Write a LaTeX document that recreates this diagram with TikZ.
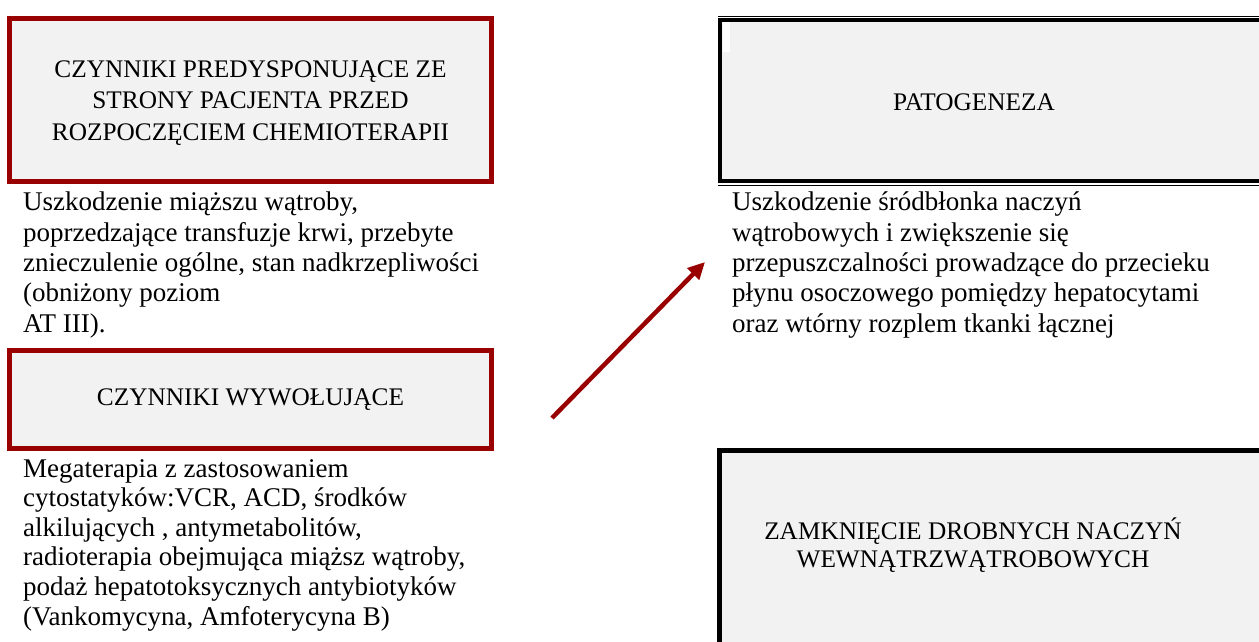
\documentclass[tikz,border=0pt]{standalone}
\usepackage{fontspec}
\setmainfont{Liberation Serif}
\usetikzlibrary{arrows.meta}
\definecolor{darkred}{RGB}{153,0,0}
\definecolor{boxgray}{RGB}{242,242,242}
\tikzset{
  redbox/.style={draw=darkred, line width=5pt, fill=boxgray, inner sep=0pt},
  blackbox/.style={draw=black, line width=4.5pt, fill=boxgray, inner sep=0pt},
  boxtext/.style={align=center, inner sep=0pt, font=\fontsize{25.3}{31.5}\selectfont},
  desc/.style={anchor=base west, align=left, inner sep=0pt, font=\fontsize{27}{30.3}\selectfont}
}
\begin{document}
\begin{tikzpicture}[x=1pt,y=-1pt]
      \useasboundingbox (0,0) rectangle (1259,642);
      \clip (0,0) rectangle (1259,642);
      % left column
      \node[redbox, minimum width=482pt, minimum height=163pt] (predysp) at (250.5,100) {};
      \node[boxtext] (predysptext) at (250.5,103) {CZYNNIKI PREDYSPONUJĄCE ZE\\STRONY PACJENTA PRZED\\ROZPOCZĘCIEM CHEMIOTERAPII};
      \node[desc] (predyspdesc) at (23,332) {Uszkodzenie miąższu wątroby,\\poprzedzające transfuzje krwi, przebyte\\znieczulenie ogólne, stan nadkrzepliwości\\(obniżony poziom\\AT III).};
      \node[redbox, minimum width=482pt, minimum height=98pt] (wywol) at (250.5,399) {};
      \node[boxtext] (wywoltext) at (250.5,400) {CZYNNIKI WYWOŁUJĄCE};
      \node[desc, font=\fontsize{27}{29.6}\selectfont] (wywoldesc) at (23,625) {Megaterapia z zastosowaniem\\cytostatyków:VCR, ACD, środków\\alkilujących , antymetabolitów,\\radioterapia obejmująca miąższ wątroby,\\podaż hepatotoksycznych antybiotyków\\(Vankomycyna, Amfoterycyna B)};
      % right column
      \node[blackbox, line width=4pt, minimum width=580pt, minimum height=161pt] (patog) at (1010,100.5) {};
      \draw[line width=1.2pt] (718,16.5) -- (1300,16.5) (718,185.5) -- (1300,185.5);
      \fill[white] (722.5,22) rectangle (730,52);
      \node[boxtext] (patogtext) at (974,102) {PATOGENEZA};
      \node[desc] (patogdesc) at (732,332) {Uszkodzenie śródbłonka naczyń\\wątrobowych i zwiększenie się\\przepuszczalności prowadzące do przecieku\\płynu osoczowego pomiędzy hepatocytami\\oraz wtórny rozplem tkanki łącznej};
      \node[blackbox, line width=5pt, minimum width=580pt, minimum height=250pt] (zamkn) at (1009,575.5) {};
      \node[boxtext, font=\fontsize{25.3}{28}\selectfont] (zamkntext) at (973,545) {ZAMKNIĘCIE DROBNYCH NACZYŃ\\WEWNĄTRZWĄTROBOWYCH};
      % arrow
      \coordinate (arrowtail) at (552,418);
      \coordinate (arrowtip) at (705,262);
      \draw[darkred, line width=4.5pt, -{Triangle[length=17pt,width=16pt]}] (arrowtail) -- (arrowtip);
    \end{tikzpicture}
\end{document}
